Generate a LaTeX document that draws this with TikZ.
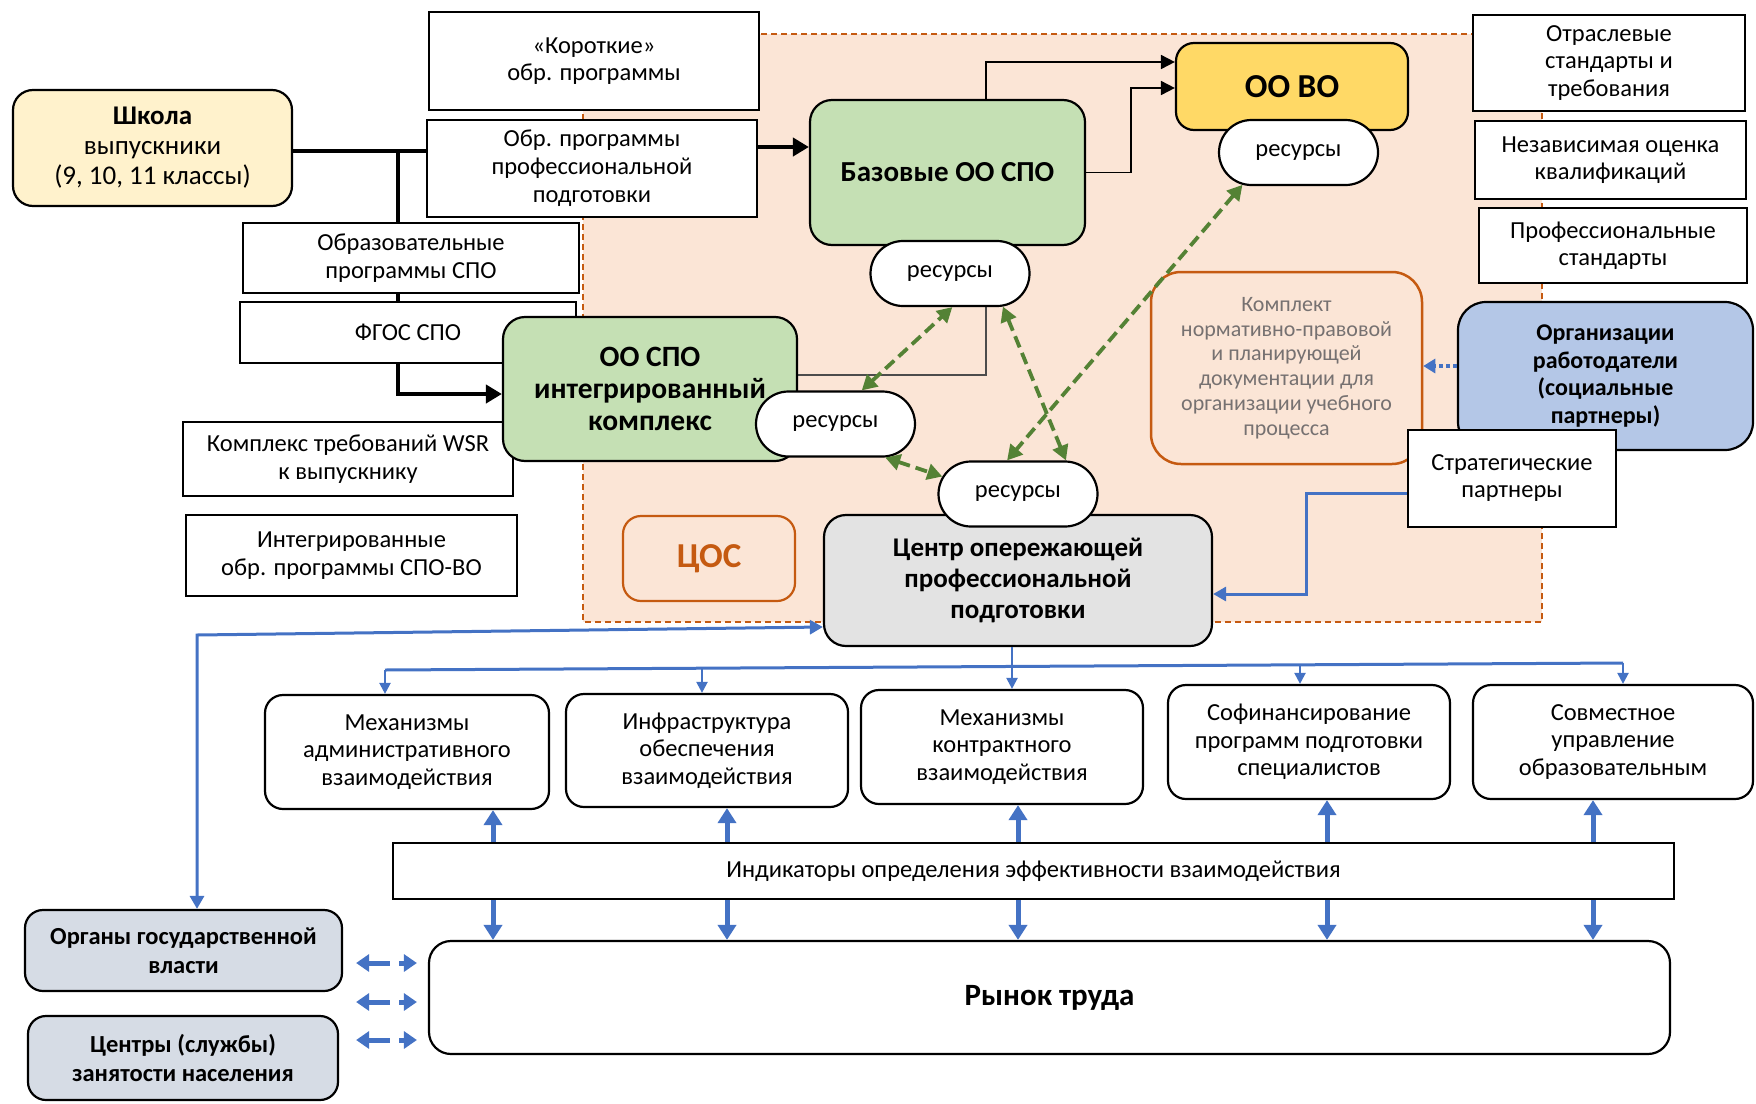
\documentclass[tikz,border=0pt]{standalone}
\usepackage{fontspec}
\setmainfont{Carlito}
\usetikzlibrary{arrows.meta,shapes.misc}
\definecolor{regfill}{HTML}{FBE5D6}
\definecolor{orng}{HTML}{C55A11}
\definecolor{grn}{HTML}{C5E0B4}
\definecolor{ylw}{HTML}{FFD966}
\definecolor{cream}{HTML}{FFF2CC}
\definecolor{lblue}{HTML}{B4C7E7}
\definecolor{lgray}{HTML}{E3E3E3}
\definecolor{govc}{HTML}{D6DCE5}
\definecolor{blu}{HTML}{4472C4}
\definecolor{dgreen}{HTML}{548235}
\definecolor{txtgray}{HTML}{767171}
\pgfdeclarelayer{bg}\pgfdeclarelayer{mid}\pgfsetlayers{bg,mid,main}
\newcommand\fsz[2]{\fontsize{#1}{#2}\selectfont}
\begin{document}
\begin{tikzpicture}[x=1pt,y=-1pt,
 base/.style={draw, line width=2.2pt, align=center, inner sep=2pt, font=\fsz{24.5}{27.5}},
 sqbox/.style={base, fill=white},
 rbox/.style={base, rounded corners=22pt},
 resbox/.style={draw, line width=2.2pt, fill=white, rounded rectangle, inner sep=2pt, minimum width=163pt, minimum height=65pt, font=\fsz{24.5}{27}},
 ttl/.style={font=\bfseries\fsz{28.5}{31}},
 blkthick/.style={line width=4.5pt, -{Triangle[length=16pt,width=18pt]}},
 blkthin/.style={line width=1.8pt, -{Triangle[length=14pt,width=14pt]}},
 greenarr/.style={draw=dgreen, line width=3.8pt, dash pattern=on 12pt off 6pt, {Triangle[length=15pt,width=16pt]}-{Triangle[length=15pt,width=16pt]}},
 bluethin/.style={draw=blu, line width=3pt},
 bluedrop/.style={draw=blu, line width=2.2pt, -{Triangle[length=11pt,width=11pt]}},
 bluethick/.style={draw=blu, line width=5pt, -{Triangle[length=15pt,width=18pt]}},
 bluedash/.style={draw=blu, line width=5pt, dash pattern=on 22pt off 9pt, {Triangle[length=13pt,width=17pt]}-{Triangle[length=13pt,width=17pt]}},
]
\useasboundingbox (0,0) rectangle (1756,1103);

% region
\begin{pgfonlayer}{bg}
\fill[regfill] (583,34) rectangle (1542,622);
\draw[orng, line width=2pt, dash pattern=on 6pt off 4pt] (583,34) rectangle (1542,622);
\end{pgfonlayer}

% left column
\node[rbox, fill=cream, rounded corners=20pt, minimum width=279pt, minimum height=116pt, font=\fsz{27}{30}] (shk) at (152.5,148) {\textbf{Школа}\\выпускники\\(9, 10, 11 классы)};
\node[sqbox, minimum width=330pt, minimum height=98pt] (kor) at (594,61) {«Короткие»\\обр. программы};
\node[sqbox, minimum width=330pt, minimum height=97pt, font=\fsz{24.5}{28}] (obr) at (592,168.5) {Обр. программы\\профессиональной\\подготовки};
\node[sqbox, minimum width=336pt, minimum height=70pt] (ops) at (411,258) {Образовательные\\программы СПО};
\node[sqbox, minimum width=336pt, minimum height=61pt] (fgos) at (408,332.5) {ФГОС СПО};
\node[sqbox, minimum width=330pt, minimum height=74pt] (wsr) at (348,459) {Комплекс требований WSR\\к выпускнику};
\node[sqbox, minimum width=331pt, minimum height=81pt] (integ) at (351.5,555.5) {Интегрированные\\обр. программы СПО-ВО};

% green / yellow blocks
\node[rbox, fill=grn, minimum width=294pt, minimum height=144pt, font=\bfseries\fsz{29.5}{32}] (oospo) at (650,389) {ОО СПО\\интегрированный\\комплекс};
\node[rbox, fill=grn, minimum width=275pt, minimum height=145pt, font=\bfseries\fsz{29}{32}] (baz) at (947.5,172.5) {Базовые ОО СПО};
\node[rbox, fill=ylw, rounded corners=18pt, minimum width=232pt, minimum height=87pt, font=\bfseries\fsz{33.5}{36}] (oovo) at (1292,86.5) {ОО ВО};
\node[rbox, fill=lgray, minimum width=388pt, minimum height=131pt, font=\bfseries\fsz{27}{31}] (center) at (1018,580.5) {Центр опережающей\\профессиональной\\подготовки};
\node[rbox, draw=orng, rounded corners=18pt, minimum width=172pt, minimum height=85pt, text=orng, font=\bfseries\fsz{35}{38}] (cos) at (709,558.5) {ЦОС};
\node[rbox, draw=orng, rounded corners=30pt, line width=2.5pt, minimum width=271pt, minimum height=192pt, text=txtgray, font=\fsz{22}{24.7}] (kompl) at (1286.5,368) {Комплект\\нормативно-правовой\\и планирующей\\документации для\\организации учебного\\процесса};

% resources
\node[resbox] (res1) at (835.5,424) {ресурсы};
\node[resbox] (res2) at (950,273.5) {ресурсы};
\node[resbox] (res3) at (1298.5,152.5) {ресурсы};
\node[resbox] (res4) at (1018,494) {ресурсы};

% right column
\node[sqbox, minimum width=272pt, minimum height=96pt, font=\fsz{24.5}{27.7}] (otr) at (1609,63) {Отраслевые\\стандарты и\\требования};
\node[sqbox, minimum width=271pt, minimum height=78pt] (nez) at (1610.5,160) {Независимая оценка\\квалификаций};
\node[sqbox, minimum width=268pt, minimum height=75pt] (prof) at (1613,245.5) {Профессиональные\\стандарты};
\node[rbox, fill=lblue, rounded corners=28pt, minimum width=295pt, minimum height=148pt, font=\bfseries\fsz{24}{27.6}] (org) at (1605.5,376) {Организации\\работодатели\\(социальные\\партнеры)};
\node[sqbox, minimum width=208pt, minimum height=97pt, font=\fsz{24.5}{27}] (strat) at (1512,478.5) {Стратегические\\партнеры};

% bottom
\node[rbox, fill=white, rounded corners=18pt, minimum width=284pt, minimum height=114pt, font=\fsz{24.5}{27.6}] (b1) at (407,752) {Механизмы\\административного\\взаимодействия};
\node[rbox, fill=white, rounded corners=18pt, minimum width=282pt, minimum height=113pt, font=\fsz{24.5}{27.6}] (b2) at (707,750.5) {Инфраструктура\\обеспечения\\взаимодействия};
\node[rbox, fill=white, rounded corners=18pt, minimum width=282pt, minimum height=114pt, font=\fsz{24.5}{27.6}] (b3) at (1002,747) {Механизмы\\контрактного\\взаимодействия};
\node[rbox, fill=white, rounded corners=18pt, minimum width=282pt, minimum height=114pt, font=\fsz{24.5}{27.6}] (b4) at (1309,742) {Софинансирование\\программ подготовки\\специалистов};
\node[rbox, fill=white, rounded corners=18pt, minimum width=280pt, minimum height=114pt, font=\fsz{24.5}{27.6}] (b5) at (1613,742) {Совместное\\управление\\образовательным};
\node[sqbox, minimum width=1281pt, minimum height=56pt, font=\fsz{24.5}{26}] (ind) at (1033.5,871) {Индикаторы определения эффективности взаимодействия};
\node[rbox, fill=white, rounded corners=22pt, minimum width=1241pt, minimum height=113pt, font=\bfseries\fsz{31}{34}] (ryn) at (1049.5,997.5) {Рынок труда};
\node[rbox, fill=govc, rounded corners=18pt, minimum width=317pt, minimum height=81pt, font=\bfseries\fsz{24.5}{28.7}] (gov) at (183.5,950.5) {Органы государственной\\власти};
\node[rbox, fill=govc, rounded corners=18pt, minimum width=310pt, minimum height=84pt, font=\bfseries\fsz{24.5}{28.7}] (czn) at (183,1058) {Центры (службы)\\занятости населения};

% helper coordinates
\coordinate (j1) at (398,151);
\coordinate (j2) at (398,394);
\coordinate (a1) at (0,147);
\coordinate (c1) at (986,62);
\coordinate (c2) at (1131,88);
\coordinate (c3) at (986,375);
\coordinate (c4) at (1306,493);
\coordinate (c5) at (1306,594);
\coordinate (c6) at (197,635);
\coordinate (c7) at (0,627);
\coordinate (c8) at (0,366);
\coordinate (d1) at (385,670);
\coordinate (d2) at (702,669);
\coordinate (d3) at (1012,667);
\coordinate (d4) at (1300,665);
\coordinate (d5) at (1623,663);
\coordinate (v1) at (493,0);
\coordinate (v2) at (727,0);
\coordinate (v3) at (1018,0);
\coordinate (v4) at (1327,0);
\coordinate (v5) at (1593,0);
\coordinate (h1) at (0,963);
\coordinate (h2) at (0,1002);
\coordinate (h3) at (0,1040);

\begin{pgfonlayer}{mid}
% black connectors
\draw[line width=4.5pt] (shk.east |- j1) -- (obr.west |- j1);
\draw[blkthick] (j1) -- (j2) -- (oospo.west |- j2);
\draw[blkthick] (obr.east |- a1) -- (baz.west |- a1);
\draw[blkthin] (baz.north -| c1) -- (c1) -- (oovo.west |- c1);
\draw[blkthin] (baz.east) -| (c2) -- (oovo.west |- c2);
\draw[line width=1.6pt, draw=black!70] (oospo.east |- c3) -- (c3) -- (res2.south -| c3);
\end{pgfonlayer}

% green dashed
\draw[greenarr] (res1.52) -- (res2.-86);
\draw[greenarr] (res2.-32) -- (res4.35);
\draw[greenarr] (res3.-150) -- (res4.108);
\draw[greenarr] (res1.-34) -- (res4.167);

% blue
\draw[draw=blu, line width=4pt, dash pattern=on 4pt off 3pt, -{Triangle[length=12pt,width=14pt]}] (org.west |- c8) -- (kompl.east |- c8);
\draw[bluethin, -{Triangle[length=13pt,width=14pt]}] (strat.west |- c4) -- (c4) -- (c5) -- (center.east |- c5);
\draw[bluethin, {Triangle[length=13pt,width=14pt]}-{Triangle[length=13pt,width=14pt]}] (center.west |- c7) -- (c6) -- (gov.north -| c6);
\draw[bluethin] (d1) -- (d5);
\draw[bluedrop] (center.south -| d3) -- (b3.north -| d3);
\draw[bluedrop] (d1) -- (b1.north -| d1);
\draw[bluedrop] (d2) -- (b2.north -| d2);
\draw[bluedrop] (d4) -- (b4.north -| d4);
\draw[bluedrop] (d5) -- (b5.north -| d5);
\foreach \b/\v in {b1/v1,b2/v2,b3/v3,b4/v4,b5/v5}{
 \draw[bluethick] (ind.north -| \v) -- (\b.south -| \v);
 \draw[bluethick] (ind.south -| \v) -- (ryn.north -| \v);
}
\draw[bluedash, shorten <=13pt, shorten >=11pt] (gov.east |- h1) -- (ryn.west |- h1);
\draw[bluedash, shorten <=13pt, shorten >=11pt] (gov.east |- h2) -- (ryn.west |- h2);
\draw[bluedash, shorten <=17pt, shorten >=11pt] (czn.east |- h3) -- (ryn.west |- h3);
\end{tikzpicture}
\end{document}
